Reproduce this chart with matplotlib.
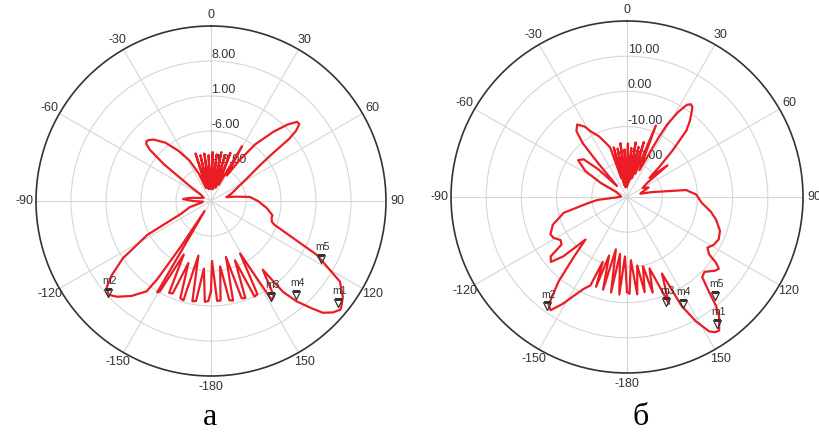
import numpy as np
import matplotlib.pyplot as plt

# pattern "а" : angle (deg) and gain (dB)
ang_a = [-180, -178.5, -176.5, -174, -171.5, -169.5, -167, -164.5, -162.5, -160,
         -157.5, -155.5, -153, -150.5, -149.5, -147.3, -146.5, -145.5, -144.5, -140,
         -135.6, -132.4, -129.5, -126.8, -123, -118, -113, -106, -100, -95,
         -90, -86, -82, -75, -66, -58, -55, -52, -50, -48.5, -47, -45.5,
         -43, -38, -33, -28, -24, -21, -18, -15.5, -13, -10.5,
         -8, -5.5, -3, -0.5, 2, 4.5, 7, 9.5, 12, 14.5,
         17, 19.5, 22, 25.5, 29.5, 32, 35, 38, 42, 45,
         47.4, 49, 50.5, 51.5, 52.5, 54, 58, 63, 70, 76,
         80, 84, 90, 97, 103, 106, 109, 110.6, 117, 122,
         126, 128.5, 130, 132.5, 135, 137, 139.5, 141.6, 143, 146.5,
         148.5, 151, 153.5, 155.5, 158, 160.5, 162.5, 165, 167.5, 169.5,
         172, 174.5, 176.5, 179, 180]
gain_a = [-2.0, 0.0, 0.2, -6.4, 0.2, 0.4, -8.8, 0.6, 0.4, -6.8,
          0.0, 0.2, -8.0, 0.8, 1.2, -17.6, -9.0, -1.0, 2.2, 4.8,
          6.8, 7.8, 7.0, 4.8, 1.0, -5.6, -13.6, -15.6, -18.0, -18.4,
          -16.4, -14.4, -15.6, -17.6, -18.4, -17.6, -15.0, -8.0, -4.0, -2.7, -2.4, -2.6,
          -3.2, -5.2, -8.0, -10.8, -14.0, -17.2, -10.0, -17.2, -10.6, -17.6,
          -10.4, -16.8, -10.8, -17.6, -10.2, -17.2, -10.6, -17.6, -10.0, -16.8,
          -10.4, -17.2, -9.6, -16.4, -7.4, -14.0, -10.0, -5.6, -1.4, 1.6,
          3.4, 3.4, 2.0, 0.0, -5.0, -8.0, -11.6, -14.0, -15.6, -16.8,
          -15.0, -12.2, -10.6, -8.8, -7.4, -7.4, -7.1, -6.4, 3.8, 10.4,
          12.6, 13.4, 13.8, 13.0, 11.6, 9.2, 6.4, 3.2, -2.8, 2.8,
          3.2, -8.0, 0.8, 1.0, -7.2, 0.6, 0.4, -8.4, 0.4, 0.2,
          -6.8, 0.0, 0.0, -8.0, -2.0]

# pattern "б"
ang_b = [-180, -178, -175.5, -173, -170.5, -168, -165.5, -163, -161, -159.5,
         -157.5, -154.7, -151.6, -149, -146, -144, -141, -138.5, -135.7, -133,
         -130.5, -127.9, -126, -123, -119, -116, -110.5, -104, -99, -95.7,
         -92, -85, -75, -65, -62, -58, -53, -49, -46, -42.5,
         -40.5, -39.5, -37.5, -34.5, -31, -29, -25, -22.8, -18.8, -17,
         -15, -13, -11, -9, -7, -5, -3, -1, 1, 3,
         5, 7, 9, 11, 13, 15, 17, 19.5, 22, 25,
         28, 29, 31, 33, 34.6, 36, 37, 39.5, 41.8, 44.4, 47, 49.5,
         52, 55, 60, 66, 72, 76, 79, 83.3, 88, 94.5,
         100, 104.3, 110, 114.8, 119, 122.2, 124.9, 126.5, 128, 130,
         134, 136.8, 139.2, 140.7, 142.5, 145.4, 147, 148.6, 151, 153.4, 155.5,
         158.5, 162.5, 165, 167, 169.5, 171.5, 174, 176.5, 178.5, 180]
gain_b = [-3.0, -13.1, -2.2, -13.7, -2.5, -14.8, -2.8, -12.6, -3.0, -10.3,
          -2.8, -1.1, 2.0, 5.4, 8.8, 7.9, 0.9, -7.0, -13.1, -5.3,
          -1.6, -2.5, -7.0, -7.5, -6.1, -5.8, -7.5, -11.5, -18.8, -21.6,
          -27.2, -28.3, -27.8, -26.6, -21.6, -16.0, -12.6, -13.7, -18.8, -25.8,
          -17.4, -10.3, -6.4, -5.0, -6.7, -8.7, -10.9, -12.6, -15.1, -24.4,
          -15.4, -26.6, -16.0, -27.2, -14.6, -26.1, -16.5, -27.2, -14.8, -26.6,
          -16.0, -25.8, -14.3, -24.9, -15.4, -24.4, -13.7, -23.0, -8.1, -21.6,
          -10.9, -6.4, -1.9, 1.2, 2.0, 1.6, 0.6, -1.9, -4.7, -11.5, -17.4, -21.6,
          -15.4, -23.0, -24.9, -23.3, -25.5, -26.1, -22.7, -13.1, -10.3, -8.7,
          -5.8, -3.9, -1.9, -1.3, -1.9, -3.0, -1.6, 1.5, 3.1, 2.6,
          0.6, 1.2, 5.7, 9.9, 13.0, 16.1, 15.8, 14.7, 10.4, 4.6, -6.1,
          2.6, -8.7, -1.9, -9.8, -2.5, -10.3, -2.2, -12.0, -2.5, -3.0]

# markers
mark_names = ['m1', 'm2', 'm3', 'm4', 'm5']
mark_ang_a = [128.8, -131.8, 148, 137.9, 117.8]
mark_gain_a = [12.6, 7.6, 2.6, 5.4, 4.8]
mark_ang_b = [144.6, -143.9, 159.5, 152.6, 138.3]
mark_gain_b = [14.1, 8.5, 2.0, 4.3, 7.6]

# grid circles and angle labels
rings_a = [-13, -6, 1, 8]
rings_b = [-20, -10, 0, 10]
theta_ticks = [0, 30, 60, 90, 120, 150, 180, 210, 240, 270, 300, 330]
theta_labels = ['0', '30', '60', '90', '120', '150', '-180', '-150', '-120', '-90', '-60', '-30']

plt.rcParams['font.family'] = ['Liberation Sans', 'DejaVu Sans']

fig = plt.figure(figsize=(8.2, 4.32), dpi=100)


def draw(ax, ang, gain, rmin, rmax, rings, m_ang, m_gain):
    ax.set_theta_zero_location('N')
    ax.set_theta_direction(-1)
    ax.plot(np.deg2rad(ang), gain, color='#eb1c24', lw=1.6, zorder=3)
    ax.set_ylim(rmin, rmax)

    # rings + labels
    ax.set_yticks(rings)
    ax.set_yticklabels([])
    for v in rings:
        ax.text(np.deg2rad(0.3), v, '%.2f' % v, ha='left', va='bottom',
                fontsize=9, color='#333333', zorder=2)

    # angles
    ax.set_xticks(np.deg2rad(theta_ticks))
    ax.set_xticklabels(theta_labels, fontsize=9, color='#333333')
    ax.set_xticks(np.deg2rad(np.arange(0, 360, 5)), minor=True)
    ax.tick_params(axis='x', which='major', direction='out', length=4, width=1, color='#333333', pad=-3)
    ax.tick_params(axis='x', which='minor', direction='out', length=3, width=1, color='#333333')
    ax.grid(True, color='#d6d6d6', lw=0.8)
    ax.spines['polar'].set_color('#333333')
    ax.spines['polar'].set_linewidth(1.2)

    # markers
    ax.plot(np.deg2rad(m_ang), m_gain, 'v', mfc='none', mec='#333333', mew=0.9, ms=6, zorder=4)
    for name, a, g in zip(mark_names, m_ang, m_gain):
        ax.annotate(name, (np.deg2rad(a), g), xytext=(1, 5), textcoords='offset points',
                    ha='center', va='bottom', fontsize=7.5, color='#333333', zorder=4)


ax1 = fig.add_axes([0.0439, 0.1296, 0.4268, 0.8102], projection='polar')
draw(ax1, ang_a, gain_a, -20, 15, rings_a, mark_ang_a, mark_gain_a)

ax2 = fig.add_axes([0.5500, 0.1366, 0.4293, 0.8148], projection='polar')
draw(ax2, ang_b, gain_b, -30, 20, rings_b, mark_ang_b, mark_gain_b)

fig.text(210 / 820, 1 - 425 / 432, 'а', ha='center', va='baseline', fontsize=23, family='Liberation Serif')
fig.text(641 / 820, 1 - 425 / 432, 'б', ha='center', va='baseline', fontsize=23, family='Liberation Serif')

fig.savefig('out.png', dpi=100)
